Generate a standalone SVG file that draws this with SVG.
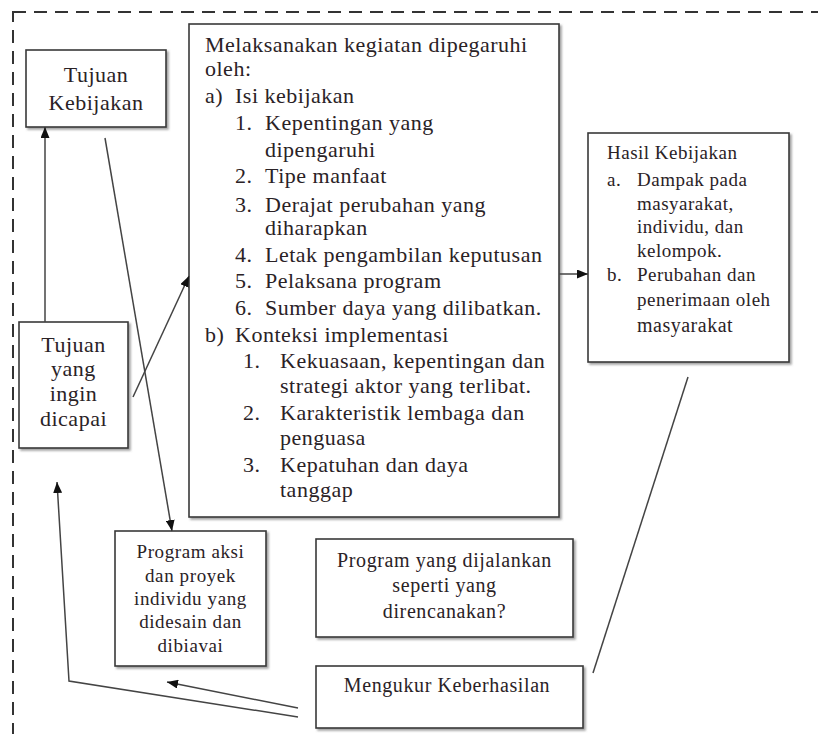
<svg xmlns="http://www.w3.org/2000/svg" width="818" height="734" viewBox="0 0 818 734">
<style>
.box{fill:#fff;stroke:#3a3a3a;stroke-width:1.6;filter:url(#sh)}
.t{font-family:"Liberation Serif","Times New Roman",serif;fill:#2a2226}
.m{font-size:22px;letter-spacing:0.5px}
.h{font-size:19px;letter-spacing:0.5px}
.c{text-anchor:middle}
.ln{fill:none;stroke:#444;stroke-width:1.5}
</style>
<defs>
<filter id="sh" x="-10%" y="-10%" width="130%" height="130%">
<feDropShadow dx="2" dy="2" stdDeviation="1.2" flood-color="#555" flood-opacity="0.55"/>
</filter>
<marker id="ar" markerUnits="userSpaceOnUse" markerWidth="11" markerHeight="9" refX="11" refY="4.5" orient="auto">
<path d="M0,0 L11,4.5 L0,9 z" fill="#111"/>
</marker>
</defs>
<rect x="13" y="12" width="830" height="750" fill="none" stroke="#333" stroke-width="2" stroke-dasharray="13,8"/>

<g id="tujuan-kebijakan">
<rect class="box" x="26" y="50" width="140" height="77"/>
<text class="t m c" x="96" y="82">Tujuan</text>
<text class="t m c" x="96" y="110">Kebijakan</text>
</g>

<g id="melaksanakan">
<rect class="box" x="189" y="24" width="370" height="493"/>
<text class="t m" x="205" y="52">Melaksanakan kegiatan dipegaruhi</text>
<text class="t m" x="205" y="76">oleh:</text>
<text class="t m" x="205" y="103">a)</text><text class="t m" x="235" y="103">Isi kebijakan</text>
<text class="t m" x="235" y="130">1.</text><text class="t m" x="265" y="130">Kepentingan yang</text>
<text class="t m" x="265" y="157">dipengaruhi</text>
<text class="t m" x="235" y="183">2.</text><text class="t m" x="265" y="183">Tipe manfaat</text>
<text class="t m" x="235" y="212">3.</text><text class="t m" x="265" y="212">Derajat perubahan yang</text>
<text class="t m" x="265" y="235">diharapkan</text>
<text class="t m" x="235" y="262">4.</text><text class="t m" x="265" y="262">Letak pengambilan keputusan</text>
<text class="t m" x="235" y="288">5.</text><text class="t m" x="265" y="288">Pelaksana program</text>
<text class="t m" x="235" y="315">6.</text><text class="t m" x="265" y="315">Sumber daya yang dilibatkan.</text>
<text class="t m" x="205" y="342">b)</text><text class="t m" x="235" y="342">Konteksi implementasi</text>
<text class="t m" x="243" y="368">1.</text><text class="t m" x="280" y="368">Kekuasaan, kepentingan dan</text>
<text class="t m" x="280" y="393">strategi aktor yang terlibat.</text>
<text class="t m" x="243" y="420">2.</text><text class="t m" x="280" y="420">Karakteristik lembaga dan</text>
<text class="t m" x="280" y="445">penguasa</text>
<text class="t m" x="243" y="472">3.</text><text class="t m" x="280" y="472">Kepatuhan dan daya</text>
<text class="t m" x="280" y="497">tanggap</text>
</g>

<g id="hasil-kebijakan">
<rect class="box" x="588" y="133" width="201" height="229"/>
<text class="t h" x="607" y="159">Hasil Kebijakan</text>
<text class="t h" x="607" y="186">a.</text><text class="t h" x="637" y="186">Dampak pada</text>
<text class="t h" x="637" y="210">masyarakat,</text>
<text class="t h" x="637" y="233">individu, dan</text>
<text class="t h" x="637" y="257">kelompok.</text>
<text class="t h" x="607" y="281">b.</text><text class="t h" x="637" y="281">Perubahan dan</text>
<text class="t h" x="637" y="306">penerimaan oleh</text>
<text class="t h" x="637" y="332" style="font-size:20px">masyarakat</text>
</g>

<g id="tujuan-ingin-dicapai">
<rect class="box" x="19" y="322" width="109" height="126"/>
<text class="t m c" x="73.5" y="352">Tujuan</text>
<text class="t m c" x="73.5" y="376">yang</text>
<text class="t m c" x="73.5" y="401">ingin</text>
<text class="t m c" x="73.5" y="426">dicapai</text>
</g>

<g id="program-aksi">
<rect class="box" x="115" y="531" width="151" height="135"/>
<text class="t h c" x="190.5" y="558" style="letter-spacing:0.6px">Program aksi</text>
<text class="t h c" x="190.5" y="582" style="letter-spacing:0.6px">dan proyek</text>
<text class="t h c" x="190.5" y="605" style="letter-spacing:0.6px">individu yang</text>
<text class="t h c" x="190.5" y="628" style="letter-spacing:0.6px">didesain dan</text>
<text class="t h c" x="190.5" y="652" style="letter-spacing:0.6px">dibiavai</text>
</g>

<g id="program-dijalankan">
<rect class="box" x="316" y="539" width="257" height="98"/>
<text class="t c" x="444.5" y="567" style="font-size:20px;letter-spacing:0.6px">Program yang dijalankan</text>
<text class="t c" x="444.5" y="592" style="font-size:20px;letter-spacing:0.6px">seperti yang</text>
<text class="t c" x="444.5" y="618" style="font-size:20px;letter-spacing:0.6px">direncanakan?</text>
</g>

<g id="mengukur">
<rect class="box" x="316" y="666" width="267" height="62"/>
<text class="t c" x="447" y="692" style="font-size:20px;letter-spacing:0.6px">Mengukur Keberhasilan</text>
</g>

<g id="connectors">
<line class="ln" x1="45" y1="322" x2="45" y2="127" marker-end="url(#ar)"/>
<line class="ln" x1="105" y1="138" x2="172" y2="531" marker-end="url(#ar)"/>
<line class="ln" x1="133" y1="397" x2="189" y2="276" marker-end="url(#ar)"/>
<line class="ln" x1="559" y1="274" x2="588" y2="274" marker-end="url(#ar)"/>
<line class="ln" x1="688" y1="377" x2="593" y2="673"/>
<line class="ln" x1="298" y1="708" x2="167" y2="682" marker-end="url(#ar)"/>
<polyline class="ln" points="298,717 69,681 57,482" marker-end="url(#ar)"/>
</g>
</svg>
